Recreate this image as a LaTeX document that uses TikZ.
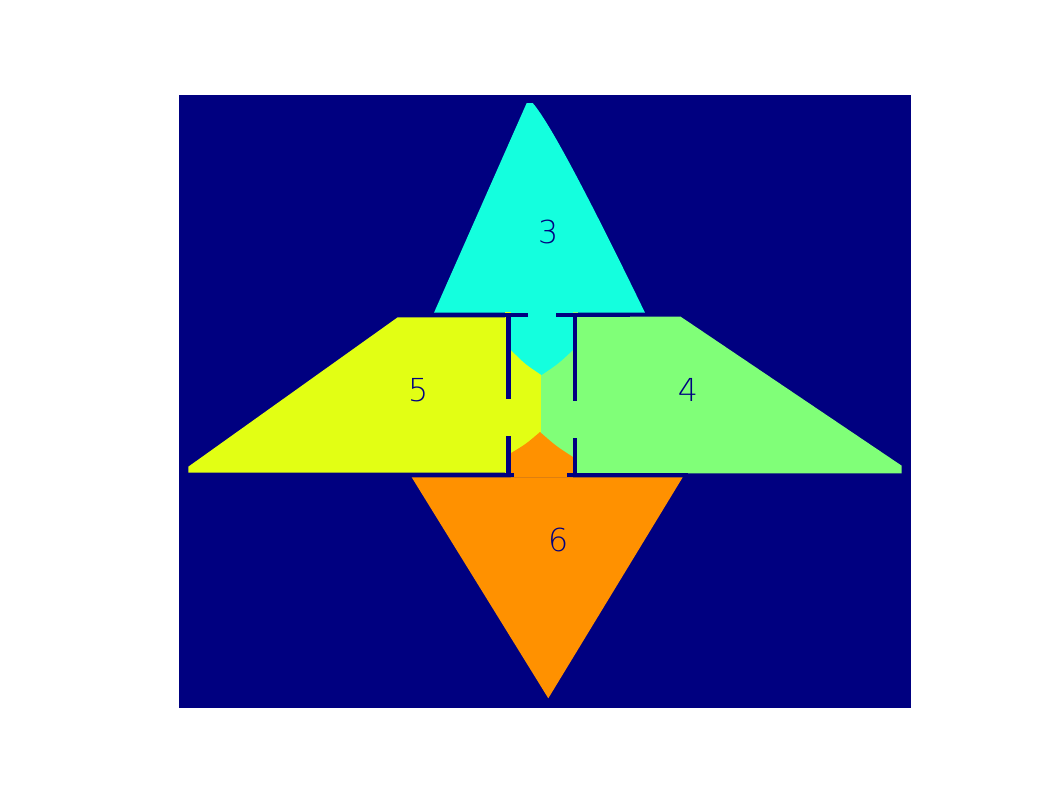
\documentclass[tikz,border=0pt]{standalone}
\usepackage{fontspec}
\newfontfamily\roomfont{DejaVu Sans ExtraLight}

\definecolor{navy}{RGB}{0,0,128}
\definecolor{roomcyan}{RGB}{20,255,222}
\definecolor{roomyellow}{RGB}{226,255,20}
\definecolor{roomgreen}{RGB}{128,255,120}
\definecolor{roomorange}{RGB}{255,145,0}

\begin{document}
\begin{tikzpicture}[x=0.01cm, y=-0.01cm]

  % Page frame based on the image
  \useasboundingbox (0,0) rectangle (1062,796);
  \fill[navy] (179,95) rectangle (911,708);

  % Outer rooms
  \fill[roomcyan] (526.7,103) -- (532.7,103) .. controls (552,125) and (600,220) .. (645,312.7) -- (434,312.7) -- cycle;
  \fill[roomyellow] (397.7,317.3) -- (506,317.3) -- (506,472.7) -- (188.3,472.7) -- (188.3,466.7) -- cycle;
  \fill[roomgreen] (680.7,316.7) -- (577,316.7) -- (577,473.3) -- (901.7,473.3) -- (901.7,465.7) -- cycle;
  \fill[roomorange] (411.7,477.3) -- (682.7,477.3) -- (548.3,698.3) -- cycle;

  % Corridor between the walls
  \fill[roomyellow] (505,312) rectangle (541.5,477);
  \fill[roomgreen] (541.5,312) rectangle (578,477);
  \fill[roomcyan] (511,312) -- (511,350) .. controls (525,364) .. (541.5,375)
    .. controls (558,364) .. (573,350) -- (573,312) -- cycle;
  \fill[roomorange] (511,477.5) -- (511,453) .. controls (526,444) .. (540,432)
    .. controls (556,446) .. (573,457) -- (573,477.5) -- cycle;

  % Walls
  \fill[navy] (480,313.3) rectangle (528,316.7);
  \fill[navy] (556,313.3) rectangle (630,316.7);
  \fill[navy] (506,313.3) rectangle (510.7,399);
  \fill[navy] (506,436) rectangle (510.7,476.7);
  \fill[navy] (572.7,313.3) rectangle (577,400.7);
  \fill[navy] (572.7,437.7) rectangle (577,476.7);
  \fill[navy] (420,472.7) rectangle (514,476.7);
  \fill[navy] (566.7,472.7) rectangle (688,476.7);

  % Room numbers
  \node[color=navy, font=\roomfont\fontsize{9}{11}\selectfont] (three) at (548.3,232) {3};
  \node[color=navy, font=\roomfont\fontsize{9}{11}\selectfont] (four) at (688,390) {4};
  \node[color=navy, font=\roomfont\fontsize{9}{11}\selectfont] (five) at (418.3,390) {5};
  \node[color=navy, font=\roomfont\fontsize{9}{11}\selectfont] (six) at (558.3,540.3) {6};

\end{tikzpicture}
\end{document}
